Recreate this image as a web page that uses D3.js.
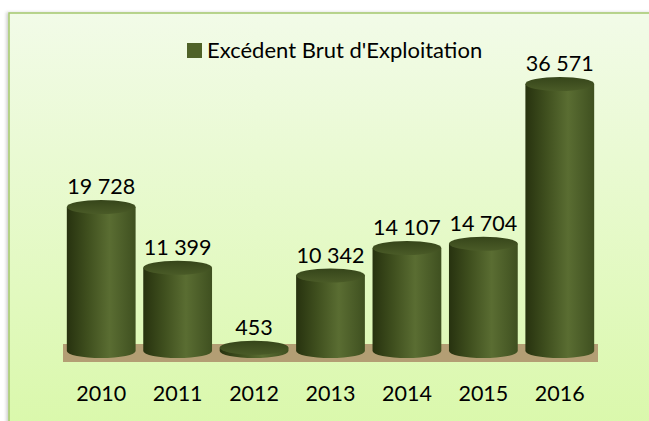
<!DOCTYPE html>
<html>
<head>
<meta charset="utf-8">
<script src="https://cdn.jsdelivr.net/npm/d3@7"></script>
<style>
  body { margin: 0; background: #fff; }
  text { font-family: Lato, "Open Sans", sans-serif; fill: #000; }
</style>
</head>
<body>
<svg width="649" height="421"></svg>
<script>
const years = ["2010", "2011", "2012", "2013", "2014", "2015", "2016"];
const ebe = [19728, 11399, 453, 10342, 14107, 14704, 36571];
const seriesName = "Excédent Brut d'Exploitation";

const svg = d3.select("svg");
const defs = svg.append("defs");
const fontSize = "21.5px";

// background panel gradient
const bg = defs.append("linearGradient").attr("id", "bg")
    .attr("x1", 0).attr("y1", 0).attr("x2", 0).attr("y2", 1);
bg.append("stop").attr("offset", "0%").attr("stop-color", "#f2fbe8");
bg.append("stop").attr("offset", "100%").attr("stop-color", "#d9f8a9");

// cylinder body shading
const bodyGrad = defs.append("linearGradient").attr("id", "body")
    .attr("x1", 0).attr("y1", 0).attr("x2", 1).attr("y2", 0);
bodyGrad.append("stop").attr("offset", "0%").attr("stop-color", "#27320f");
bodyGrad.append("stop").attr("offset", "30%").attr("stop-color", "#3f4f1e");
bodyGrad.append("stop").attr("offset", "62%").attr("stop-color", "#5a6d32");
bodyGrad.append("stop").attr("offset", "100%").attr("stop-color", "#3f5020");

const capGrad = defs.append("linearGradient").attr("id", "cap")
    .attr("x1", 0).attr("y1", 0).attr("x2", 0).attr("y2", 1);
capGrad.append("stop").attr("offset", "0%").attr("stop-color", "#36451a");
capGrad.append("stop").attr("offset", "100%").attr("stop-color", "#4a5b27");

const shadow = defs.append("filter").attr("id", "shadow")
    .attr("x", "-5%").attr("y", "-5%").attr("width", "110%").attr("height", "110%");
shadow.append("feDropShadow").attr("dx", -2).attr("dy", 0).attr("stdDeviation", 1.5)
    .attr("flood-color", "#000").attr("flood-opacity", 0.18);

// chart panel (runs off the right and bottom of the picture)
svg.append("rect")
    .attr("x", 9).attr("y", 13).attr("width", 660).attr("height", 430)
    .attr("fill", "url(#bg)").attr("stroke", "#a4c86c").attr("stroke-width", 1.5)
    .attr("filter", "url(#shadow)");

const x = d3.scaleBand().domain(years).range([63, 598])
    .paddingInner(0.1).paddingOuter(0.05);
const y = d3.scaleLinear().domain([0, 40000]).range([351, 59]);
const ry = 7;

// floor
svg.append("rect")
    .attr("x", x.range()[0]).attr("y", y(0) - 7)
    .attr("width", x.range()[1] - x.range()[0]).attr("height", 18)
    .attr("fill", "#b39e74");

const bars = svg.append("g").selectAll("g")
  .data(years.map((d, i) => ({ year: d, value: ebe[i] })))
  .join("g");

bars.append("path")
    .attr("fill", "url(#body)")
    .attr("d", d => {
      const x0 = x(d.year), w = x.bandwidth(), rx = w / 2;
      const yt = y(d.value), yb = y(0);
      return `M${x0},${yt} L${x0},${yb} A${rx},${ry} 0 0 0 ${x0 + w},${yb} L${x0 + w},${yt} Z`;
    });

bars.append("ellipse")
    .attr("cx", d => x(d.year) + x.bandwidth() / 2)
    .attr("cy", d => y(d.value))
    .attr("rx", x.bandwidth() / 2).attr("ry", ry)
    .attr("fill", "url(#cap)");

bars.append("text")
    .attr("x", d => x(d.year) + x.bandwidth() / 2)
    .attr("y", d => y(d.value) - ry - 6)
    .attr("text-anchor", "middle")
    .style("font-size", fontSize)
    .text(d => d3.format(",")(d.value).replace(/,/g, " "));

// category axis, no line or ticks
const xAxis = svg.append("g")
    .attr("transform", `translate(0,${y(0)})`)
    .call(d3.axisBottom(x).tickSize(0).tickPadding(35));
xAxis.select(".domain").remove();
xAxis.selectAll("text")
    .style("font-size", fontSize)
    .style("font-family", "Lato, 'Open Sans', sans-serif")
    .attr("fill", "#000");

// legend
const legend = svg.append("g").attr("transform", "translate(187,43)");
legend.append("rect").attr("width", 15).attr("height", 15).attr("fill", "#4f6228");
legend.append("text").attr("x", 20).attr("y", 15)
    .style("font-size", "22px").text(seriesName);
</script>
</body>
</html>
